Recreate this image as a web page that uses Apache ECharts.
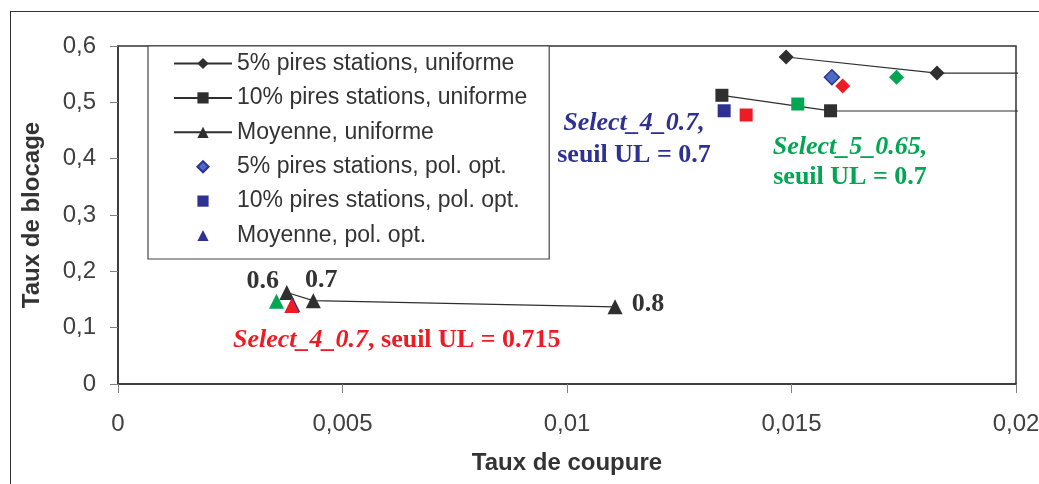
<!DOCTYPE html>
<html>
<head>
<meta charset="utf-8">
<script src="https://cdn.jsdelivr.net/npm/echarts@6/dist/echarts.min.js"></script>
<style>
  html, body { margin: 0; padding: 0; background: #fff; }
  #frame { position: absolute; left: 10px; top: 11px; width: 1100px; height: 500px;
           border: 1.5px solid #333; box-sizing: border-box; }
  #chart { position: absolute; left: 0; top: 0; width: 1039px; height: 484px; }
</style>
</head>
<body>
<div id="frame"></div>
<div id="chart"></div>
<script>
// Taux de coupure (x) / Taux de blocage (y)
const xTickLabels = ['0', '0,005', '0,01', '0,015', '0,02'];
const yTickLabels = ['0', '0,1', '0,2', '0,3', '0,4', '0,5', '0,6'];

const seriesNames = [
  '5% pires stations, uniforme',
  '10% pires stations, uniforme',
  'Moyenne, uniforme',
  '5% pires stations, pol. opt.',
  '10% pires stations, pol. opt.',
  'Moyenne, pol. opt.'
];

// uniform policy, seuils 0.6 / 0.7 / 0.8 (last point of the first two curves lies past 0.02)
const pires5Uniforme = [[0.01488, 0.5805], [0.01824, 0.552], [0.026, 0.551]];
const pires10Uniforme = [[0.01345, 0.5125], [0.01587, 0.485], [0.026, 0.484]];
const moyenneUniforme = [[0.00376, 0.1625], [0.00435, 0.148], [0.01107, 0.137]];
const seuilLabels = ['0.6', '0.7', '0.8'];

// optimised policies: Select_4_0.7 (UL 0.7), Select_4_0.7 (UL 0.715), Select_5_0.65 (UL 0.7)
const pires5PolOpt = [[0.0159, 0.5445], [0.01614, 0.529], [0.01734, 0.5445]];
const pires10PolOpt = [[0.0135, 0.485], [0.01399, 0.4775], [0.01514, 0.497]];
const moyennePolOpt = [[0.00389, 0.141], [0.00387, 0.1395], [0.00353, 0.147]];

const DARK = '#2f2f2f';
const BLUE = '#2e3192';
const RED = '#ed1c24';
const GREEN = '#00a651';
const policyColors = [BLUE, RED, GREEN];

const sansFont = '"Liberation Sans", Arial, sans-serif';
const serifFont = '"Liberation Serif", "Times New Roman", serif';

const seuilLabelOffsets = [[-24, -11], [8, -20], [33, -3]];

function lineSeries(name, data, symbol, size, withLabels) {
  return {
    name, type: 'line', data: data.map((p, i) => {
      const item = { value: p };
      if (withLabels) {
        item.label = {
          show: true, position: 'inside', offset: seuilLabelOffsets[i],
          formatter: seuilLabels[i], color: '#333', fontFamily: serifFont,
          fontWeight: 'bold', fontSize: 26
        };
      }
      return item;
    }),
    symbol, symbolSize: size, showAllSymbol: true, clip: true,
    lineStyle: { color: DARK, width: 1.2 },
    itemStyle: { color: DARK },
    z: 2
  };
}

// markers only: the connecting line is hidden, so the legend shows just the symbol
function policySeries(name, data, symbol, size, legendStyle) {
  return {
    name, type: 'line', symbol, symbolSize: size, showAllSymbol: true, clip: true,
    lineStyle: { width: 0, opacity: 0 },
    itemStyle: Object.assign({ opacity: 1 }, legendStyle),
    data: data.map((p, i) => ({
      value: p,
      itemStyle: i === 0 ? Object.assign({ opacity: 1 }, legendStyle)
                         : { color: policyColors[i], borderWidth: 0, opacity: 1 }
    })),
    z: 3
  };
}

const chart = echarts.init(document.getElementById('chart'), null, { renderer: 'canvas' });

chart.setOption({
  animation: false,
  grid: {
    left: 118, right: 23, top: 46, bottom: 100,
    show: true, borderColor: '#333', borderWidth: 1.5,
    outerBoundsMode: 'none'
  },
  legend: {
    orient: 'vertical', left: 148, top: 46,
    data: seriesNames.map(name => ({ name })),
    backgroundColor: '#fff', borderColor: '#444', borderWidth: 1.2, borderRadius: 0,
    padding: [6, 22, 12, 25],
    itemWidth: 58, itemHeight: 14, itemGap: 11.4,
    textStyle: { fontFamily: sansFont, fontSize: 23, lineHeight: 22, color: '#333' },
    selectedMode: false
  },
  xAxis: {
    type: 'value', min: 0, max: 0.02, interval: 0.005,
    name: 'Taux de coupure', nameLocation: 'middle', nameGap: 67,
    nameTextStyle: { fontFamily: sansFont, fontWeight: 'bold', fontSize: 24, color: '#333' },
    axisLine: { show: true, lineStyle: { color: '#333', width: 1.5 } },
    axisTick: { show: true, length: 9, lineStyle: { color: '#808080' } },
    axisLabel: {
      margin: 28, fontFamily: sansFont, fontSize: 24, color: '#404040',
      formatter: v => xTickLabels[Math.round(v / 0.005)]
    },
    splitLine: { show: false }
  },
  yAxis: {
    type: 'value', min: 0, max: 0.6, interval: 0.1,
    name: 'Taux de blocage', nameLocation: 'middle', nameGap: 74, nameRotate: 90,
    nameTextStyle: { fontFamily: sansFont, fontWeight: 'bold', fontSize: 24, color: '#333' },
    axisLine: { show: true, lineStyle: { color: '#333', width: 1.5 } },
    axisTick: { show: true, length: 8, lineStyle: { color: '#808080' } },
    axisLabel: {
      margin: 22, fontFamily: sansFont, fontSize: 24, color: '#404040',
      formatter: v => yTickLabels[Math.round(v / 0.1)]
    },
    splitLine: { show: false }
  },
  series: [
    lineSeries(seriesNames[0], pires5Uniforme, 'diamond', 15, false),
    lineSeries(seriesNames[1], pires10Uniforme, 'rect', 13, false),
    lineSeries(seriesNames[2], moyenneUniforme, 'triangle', 15, true),
    policySeries(seriesNames[3], pires5PolOpt, 'diamond', 15,
      { color: '#4b6cc4', borderColor: BLUE, borderWidth: 1.5 }),
    policySeries(seriesNames[4], pires10PolOpt, 'rect', 13, { color: BLUE }),
    policySeries(seriesNames[5], moyennePolOpt, 'triangle', 15, { color: BLUE })
  ],
  graphic: [
    { type: 'text', x: 634, y: 123, z: 10,
      style: { text: 'Select_4_0.7,', fill: BLUE, align: 'center', verticalAlign: 'middle',
               font: 'italic bold 26px ' + serifFont } },
    { type: 'text', x: 634, y: 155, z: 10,
      style: { text: 'seuil UL = 0.7', fill: BLUE, align: 'center', verticalAlign: 'middle',
               font: 'bold 26px ' + serifFont } },
    { type: 'text', x: 850, y: 147, z: 10,
      style: { text: 'Select_5_0.65,', fill: GREEN, align: 'center', verticalAlign: 'middle',
               font: 'italic bold 26px ' + serifFont } },
    { type: 'text', x: 850, y: 177, z: 10,
      style: { text: 'seuil UL = 0.7', fill: GREEN, align: 'center', verticalAlign: 'middle',
               font: 'bold 26px ' + serifFont } },
    { type: 'text', x: 233, y: 340, z: 10,
      style: {
        text: '{i|Select_4_0.7}{b|, seuil UL = 0.715}', fill: RED,
        align: 'left', verticalAlign: 'middle',
        rich: {
          i: { fontFamily: serifFont, fontStyle: 'italic', fontWeight: 'bold', fontSize: 26, fill: RED },
          b: { fontFamily: serifFont, fontWeight: 'bold', fontSize: 26, fill: RED }
        }
      } }
  ]
});
</script>
</body>
</html>
